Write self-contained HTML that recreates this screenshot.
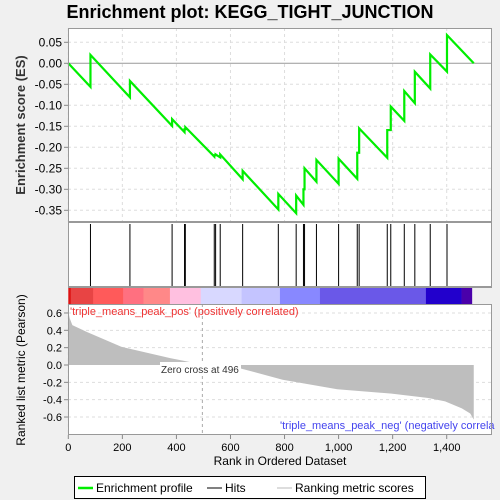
<!DOCTYPE html>
<html><head><meta charset="utf-8"><style>
body{margin:0;background:#f0f0f0;font-family:"Liberation Sans","DejaVu Sans",sans-serif;}
svg{display:block}
</style></head><body>
<svg id="chart" width="500" height="500" xmlns="http://www.w3.org/2000/svg">
<rect x="0" y="0" width="500" height="500" fill="#f0f0f0"/>
<text x="250" y="18" text-anchor="middle" font-size="18" font-weight="bold" fill="#000">Enrichment plot: KEGG_TIGHT_JUNCTION</text>
<g id="g-top"></g>
<g id="g-hits"></g>
<g id="g-bar"></g>
<g id="g-bot"></g>
<text x="280" y="465" text-anchor="middle" font-size="12" fill="#000">Rank in Ordered Dataset</text>
<text transform="translate(25,125) rotate(-90)" text-anchor="middle" font-size="13" font-weight="bold" fill="#333">Enrichment score (ES)</text>
<text transform="translate(25,370) rotate(-90)" text-anchor="middle" font-size="12" fill="#000">Ranked list metric (Pearson)</text>
<g>
<rect x="74.5" y="476.5" width="351" height="22" fill="#fff" stroke="#000"/>
<line x1="78" y1="488" x2="93" y2="488" stroke="#00ee00" stroke-width="2.5"/>
<text x="96" y="492" font-size="12">Enrichment profile</text>
<line x1="207" y1="488" x2="222" y2="488" stroke="#000" stroke-width="1"/>
<text x="225" y="492" font-size="12">Hits</text>
<line x1="277" y1="488" x2="292" y2="488" stroke="#bbb" stroke-width="1"/>
<text x="295" y="492" font-size="12">Ranking metric scores</text>
</g>
</svg>
<script>
const hitRanks=[82,228,384,430,433,540,545,562,645,777,843,870,874,918,1000,1069,1076,1180,1193,1243,1282,1339,1401];
const esBefore=[-0.056,-0.081,-0.149,-0.164,-0.157,-0.222,-0.219,-0.224,-0.276,-0.348,-0.357,-0.337,-0.300,-0.282,-0.287,-0.275,-0.213,-0.225,-0.159,-0.137,-0.095,-0.060,-0.020];
const esAfter=[0.020,-0.042,-0.133,-0.157,-0.152,-0.219,-0.217,-0.217,-0.256,-0.311,-0.315,-0.300,-0.250,-0.230,-0.227,-0.213,-0.155,-0.159,-0.103,-0.066,-0.020,0.021,0.067];
const totalRanks=1500;
const esTicks=[0.05,0,-0.05,-0.1,-0.15,-0.2,-0.25,-0.3,-0.35];
const esTickLabels=["0.05","0.00","-0.05","-0.10","-0.15","-0.20","-0.25","-0.30","-0.35"];
const rankTicks=[0,200,400,600,800,1000,1200,1400];
const rankTickLabels=["0","200","400","600","800","1,000","1,200","1,400"];
const metricRanks=[0,5,15,69,196,377,489,496,638,793,995,1196,1332,1394,1456,1487,1500];
const metricValues=[0.62,0.54,0.46,0.38,0.21,0.08,0.01,0,-0.04,-0.17,-0.28,-0.33,-0.38,-0.42,-0.50,-0.56,-0.63];
const metricTicks=[0.6,0.4,0.2,0,-0.2,-0.4,-0.6];
const metricTickLabels=["0.6","0.4","0.2","0.0","-0.2","-0.4","-0.6"];
const barStops=[0,9,92,203,278,376,490,641,783,931,1323,1455,1493];
const barColors=["#dd1111","#e84444","#ff5a5a","#ff7080","#ff8888","#ffc0e0","#d8d8ff","#c4c4ff","#8888ff","#6a58e8","#2200cc","#4a00aa"];
const NS="http://www.w3.org/2000/svg";
const L=68,R=492;
function xr(r){return 68.3+r*0.2703;}
function yes(v){return 63.3-v*420;}
function ym(v){return 365-v*86.7;}
function mk(p,t,a){const e=document.createElementNS(NS,t);for(const k in a)e.setAttribute(k,a[k]);p.appendChild(e);return e;}
const gTop=document.getElementById('g-top'),gHits=document.getElementById('g-hits'),gBar=document.getElementById('g-bar'),gBot=document.getElementById('g-bot');
const svgRoot=document.getElementById('chart');
mk(gTop,'rect',{x:L,y:28,width:R-L,height:194,fill:'#fff'});
mk(gHits,'rect',{x:L,y:222,width:R-L,height:65,fill:'#fff'});
mk(gBot,'rect',{x:L,y:304,width:R-L,height:131,fill:'#fff'});
rankTicks.forEach((r,i)=>{
 [[28,222],[304,435]].forEach(([a,b])=>{const g=mk(gTop,'line',{x1:xr(r),x2:xr(r),y1:a,y2:b,stroke:'#ddd','stroke-dasharray':'3,3'});
 
 });
 mk(gBot,'line',{x1:xr(r),x2:xr(r),y1:435,y2:439,stroke:'#888'});
 const t=mk(gBot,'text',{x:xr(r),y:451,'text-anchor':'middle','font-size':'11'});t.textContent=rankTickLabels[i];
 
 
});
esTicks.forEach((v,i)=>{
 if(v!==0)mk(gTop,'line',{x1:L,x2:R,y1:yes(v),y2:yes(v),stroke:'#ddd','stroke-dasharray':'3,3'});
 mk(gTop,'line',{x1:L-4,x2:L,y1:yes(v),y2:yes(v),stroke:'#888'});
 const t=mk(gTop,'text',{x:L-6,y:yes(v)+4,'text-anchor':'end','font-size':'12'});t.textContent=esTickLabels[i];
 
 
});
mk(gTop,'line',{x1:L,x2:R,y1:yes(0),y2:yes(0),stroke:'#999'});
metricTicks.forEach((v,i)=>{
 if(v!==0)mk(gBot,'line',{x1:L,x2:R,y1:ym(v),y2:ym(v),stroke:'#ddd','stroke-dasharray':'3,3'});
 mk(gBot,'line',{x1:L-4,x2:L,y1:ym(v),y2:ym(v),stroke:'#888'});
 const t=mk(gBot,'text',{x:L-6,y:ym(v)+4,'text-anchor':'end','font-size':'11'});t.textContent=metricTickLabels[i];
 
 
});
let pts=[[0,0]];
hitRanks.forEach((r,i)=>{pts.push([r,esBefore[i]]);pts.push([r,esAfter[i]]);});
pts.push([totalRanks,0]);
const pl=mk(gTop,'polyline',{points:pts.map(p=>xr(p[0])+','+yes(p[1])).join(' '),fill:'none',stroke:'#00ee00','stroke-width':2.2});


hitRanks.forEach(r=>{const h=mk(gHits,'line',{x1:xr(r),x2:xr(r),y1:224,y2:287,stroke:'#000','stroke-width':1});

});
barColors.forEach((c,i)=>{const b=mk(gBar,'rect',{x:xr(barStops[i]),y:287,width:xr(barStops[i+1])-xr(barStops[i])+0.3,height:17,fill:c});

});
let d='M'+xr(0)+','+ym(0);
metricRanks.forEach((r,i)=>{d+=' L'+xr(r)+','+ym(metricValues[i]);});
d+=' L'+xr(totalRanks)+','+ym(0)+' Z';
const ar=mk(gBot,'path',{d:d,fill:'#bebebe'});


mk(gBot,'line',{x1:xr(496),x2:xr(496),y1:304,y2:435,stroke:'#aaa','stroke-dasharray':'3,3'});
mk(gBot,'rect',{x:160,y:362,width:81,height:13,fill:'#fff'});
const zt=mk(gBot,'text',{x:161,y:373,'font-size':'10',fill:'#333'});zt.textContent='Zero cross at 496';


const pt=mk(gBot,'text',{x:70,y:315,'font-size':'11',fill:'#ee3333'});pt.textContent="'triple_means_peak_pos' (positively correlated)";


const nt=mk(gBot,'text',{x:280,y:429,'font-size':'11',fill:'#4444ee'});nt.textContent="'triple_means_peak_neg' (negatively correla";


[[28,194],[222,65],[304,131]].forEach(([y,h])=>mk(svgRoot,'rect',{x:L+0.5,y:y+0.5,width:R-L-1,height:h-1,fill:'none',stroke:'#999'}));
mk(svgRoot,'line',{x1:L,x2:R,y1:287.5,y2:287.5,stroke:'#999'});
</script>
</body></html>
